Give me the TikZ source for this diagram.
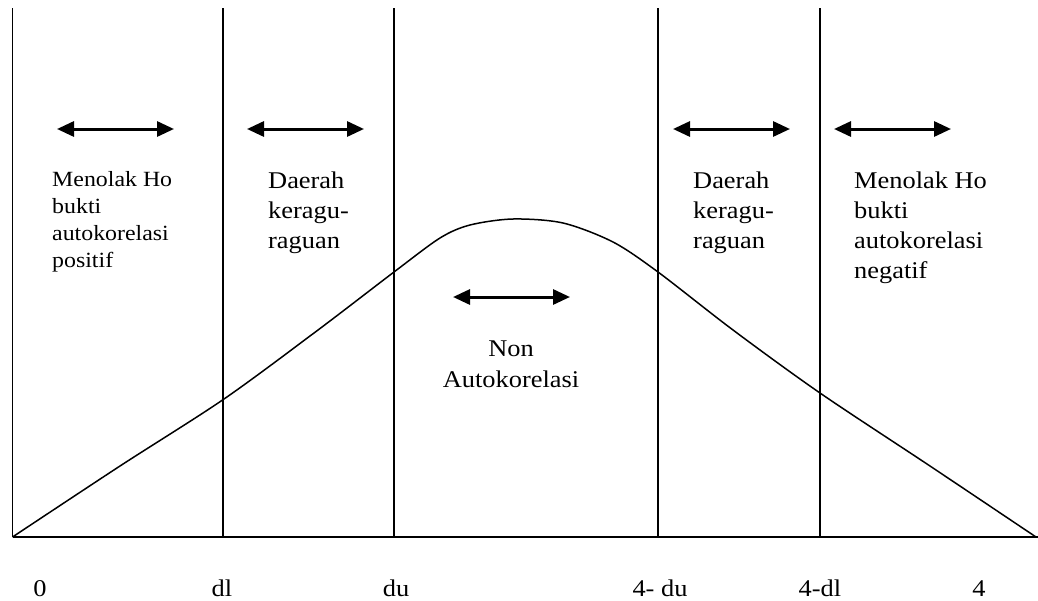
\documentclass[tikz,border=0pt]{standalone}
\usepackage{fontspec}
\setmainfont[FakeStretch=1.1]{Liberation Serif}
\usetikzlibrary{arrows.meta}
\tikzset{
  vline/.style={line width=1.6pt},
  base/.style={line width=1.8pt},
  curve/.style={line width=1.5pt},
  darrow/.style={line width=3pt, {Triangle[length=17pt,width=15pt]}-{Triangle[length=17pt,width=15pt]}},
  lbl/.style={inner sep=0pt, anchor=base west, align=left, font=\fontsize{24}{30}\selectfont},
  lbls/.style={inner sep=0pt, anchor=base west, align=left, font=\fontsize{21.7}{27}\selectfont},
  axl/.style={inner sep=0pt, anchor=base, font=\fontsize{24}{30}\selectfont}
}
\begin{document}
\begin{tikzpicture}[x=1pt,y=-1pt]
\useasboundingbox (0,0) rectangle (1038,600);
% vertical lines
\coordinate (t0) at (12.5,8);   \coordinate (b0) at (12.5,537);
\coordinate (t1) at (223,8);  \coordinate (b1) at (223,537);
\coordinate (t2) at (394,8);  \coordinate (b2) at (394,537);
\coordinate (t3) at (658,8);  \coordinate (b3) at (658,537);
\coordinate (t4) at (820,8);  \coordinate (b4) at (820,537);
\coordinate (bend) at (1038,537);
\draw[vline] (t0) -- (b0);
\draw[vline] (t1) -- (b1);
\draw[vline] (t2) -- (b2);
\draw[vline] (t3) -- (b3);
\draw[vline] (t4) -- (b4);
\draw[base] (b0) -- (bend);
% curve
\draw[curve, line join=round] plot[smooth, tension=0.5] coordinates {
 (12.5,537) (120,466) (224,399) (318,330) (394,272) (440,238)
 (470,225) (513,219) (563,223) (613,242) (658,272) (733,330) (820,393)
 (930,466) (1036,537)};
% arrows
\coordinate (a1l) at (57,129);  \coordinate (a1r) at (174,129);
\coordinate (a2l) at (247,129); \coordinate (a2r) at (364,129);
\coordinate (a3l) at (673,129); \coordinate (a3r) at (790,129);
\coordinate (a4l) at (834,129); \coordinate (a4r) at (951,129);
\coordinate (a5l) at (453,297); \coordinate (a5r) at (570,297);
\draw[darrow] (a1l) -- (a1r);
\draw[darrow] (a2l) -- (a2r);
\draw[darrow] (a3l) -- (a3r);
\draw[darrow] (a4l) -- (a4r);
\draw[darrow] (a5l) -- (a5r);
% texts (anchor = baseline of last line)
\node[lbls] (t1txt) at (52,267) {Menolak Ho\\bukti\\autokorelasi\\positif};
\node[lbl] (t2txt) at (268,248) {Daerah\\keragu-\\raguan};
\node[lbl] (t3txt) at (693,248) {Daerah\\keragu-\\raguan};
\node[lbl] (t4txt) at (854,278) {Menolak Ho\\bukti\\autokorelasi\\negatif};
\node[inner sep=0pt, anchor=base, align=center, font=\fontsize{24}{31}\selectfont] (t5txt) at (511,387) {Non\\Autokorelasi};
% axis labels
\node[axl] (l0) at (40,596) {0};
\node[axl] (l1) at (222,596) {dl};
\node[axl] (l2) at (396,596) {du};
\node[axl] (l3) at (660,596) {4- du};
\node[axl] (l4) at (820,596) {4-dl};
\node[axl] (l5) at (979,596) {4};
\end{tikzpicture}
\end{document}
